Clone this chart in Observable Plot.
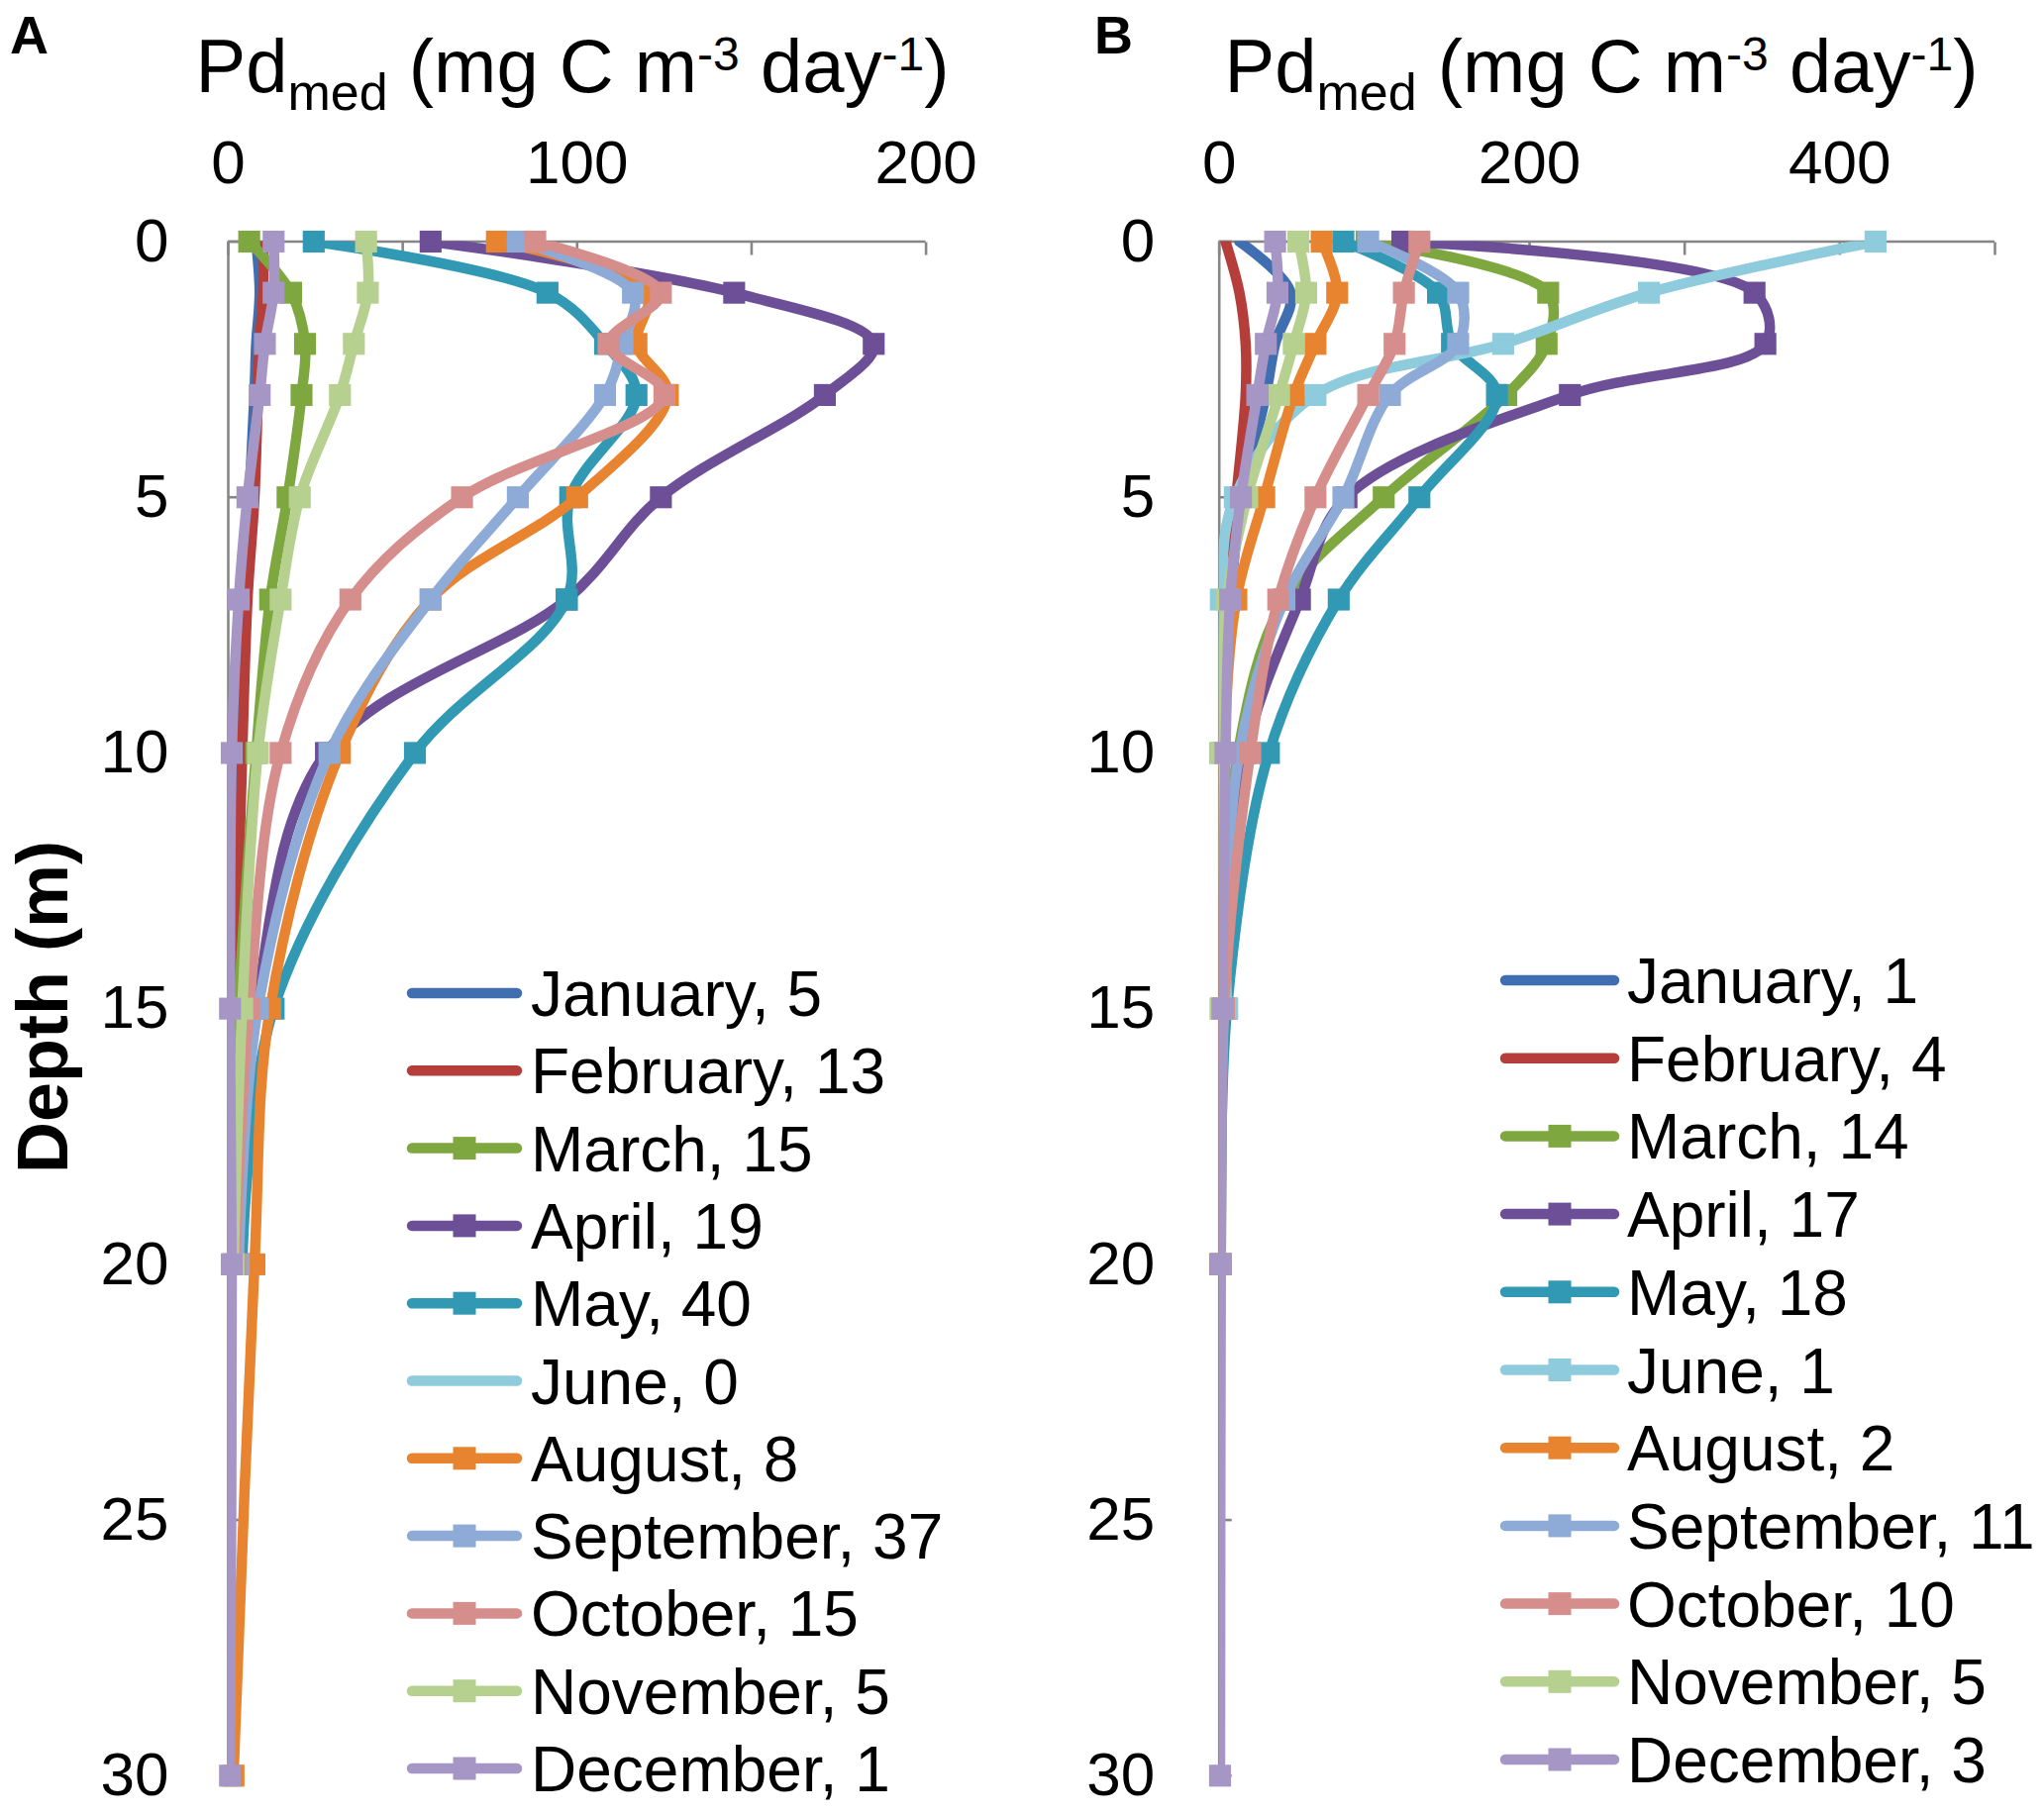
<!DOCTYPE html>
<html>
<head>
<meta charset="utf-8">
<script src="https://cdn.jsdelivr.net/npm/d3@7"></script>
<script src="https://cdn.jsdelivr.net/npm/@observablehq/plot@0.6"></script>
<style>
  html, body { margin: 0; padding: 0; background: #fff; }
  #root { position: relative; width: 2064px; height: 1832px; overflow: hidden; font-family: "Liberation Sans", Arial, sans-serif; }
  .panel { position: absolute; top: 0; width: 1032px; height: 1832px; }
</style>
</head>
<body>
<div id="root"></div>
<script>
// ---------- data ----------
const depths = [0, 1, 2, 3, 5, 7, 10, 15, 20, 30];
const depthTicks = [0, 5, 10, 15, 20, 25, 30];
const months = ["January", "February", "March", "April", "May", "June", "August", "September", "October", "November", "December"];
const colors = ["#3f6fb0", "#b53d3a", "#7ea83f", "#6c4f97", "#3199b3", "#8ecbdc", "#e8842f", "#8eaad6", "#d68e8c", "#b6d18f", "#a696c5"];
const countsA = [5, 13, 15, 19, 40, 0, 8, 37, 15, 5, 1];
const countsB = [1, 4, 14, 17, 18, 1, 2, 11, 10, 5, 3];
const markersA = [false, false, true, true, true, false, true, true, true, true, true];
const markersB = [false, false, true, true, true, true, true, true, true, true, true];

const xTicksA = [0, 50, 100, 150, 200];
const xLabelsA = [0, 100, 200];
const xTicksB = [0, 100, 200, 300, 400, 500];
const xLabelsB = [0, 200, 400];

// Panel A values at depths 0,1,2,3,5,7,10,15,20,30
const aJan = [8, 9, 8, 7.5, 6, 4, 2.5, 1.5, 1, null];
const aFeb = [10, 10, 9, 8.5, 7.5, 5.5, 4, 2, 1, null];
const aMar = [6, 18, 22, 21, 17, 12, 8, 3, 1.5, null];
const aApr = [58, 145, 185, 171, 124, 97, 28, 8, 3, null];
const aMay = [24.5, 91.5, 108, 117, 98, 97, 53.5, 13, 4, null];
const aJun = [null, null, null, null, null, null, null, null, null, null];
const aAug = [77, 120, 117, 126, 100, 58, 32, 12, 7.5, 1.5];
const aSep = [83, 116, 113, 108, 83, 58, 29, 8.5, 3, null];
const aOct = [88, 124, 109, 125, 67, 35, 15, 6, 2, null];
const aNov = [39.5, 40, 36, 32, 20.5, 15, 8.5, 4, 1.5, null];
const aDec = [13, 13, 10.5, 9, 5.5, 3, 1, 0.5, 1, 0.5];

// Panel B values
const bJan = [13, 46, 36, 30, 15, 7, 3, 1, 0.5, null];
const bFeb = [4, 13, 17, 17, 11, 5.5, 2, 1, 0.5, null];
const bMar = [95, 212, 211, 185, 106, 42, 12, 3, 1, null];
const bApr = [118, 345, 352, 226, 82, 52, 17, 3, 1, null];
const bMay = [80, 141, 150, 179, 129, 77, 32, 5, 1, null];
const bJun = [423, 277, 183, 62, 10, 1, 1, 5, null, null];
const bAug = [66, 76, 62, 48, 29, 11, 3, 1, 0.5, null];
const bSep = [96, 154, 154, 110, 80, 42, 13, 3, 1, null];
const bOct = [129, 119, 113, 96, 62, 38, 20, 3, 1, null];
const bNov = [51, 56, 48, 38.5, 18, 5, 0.5, 1, null, null];
const bDec = [36, 37.5, 30, 24.5, 14, 7, 4, 2, 1, 0.5];

const valsA = [aJan, aFeb, aMar, aApr, aMay, aJun, aAug, aSep, aOct, aNov, aDec];
const valsB = [bJan, bFeb, bMar, bApr, bMay, bJun, bAug, bSep, bOct, bNov, bDec];

// ---------- layout ----------
const W = 2064, H = 1832;
const yTop = 243.5, yBot = 1792.8;
const FONT = '"Liberation Sans", Arial, sans-serif';
const AXIS = "#868686";

function makePanel({vals, xmax, tickMarks, tickLabels, ml, mr, labelPad, markers}) {
  const seriesMarks = [];
  months.forEach((m, i) => {
    const data = depths.map((d, j) => ({depth: d, v: vals[i][j], month: m})).filter(d => d.v != null);
    if (!data.length) return;
    seriesMarks.push(Plot.line(data, {x: "v", y: "depth", stroke: "month", strokeWidth: 10.5, curve: "catmull-rom", clip: true}));
    if (markers[i]) seriesMarks.push(Plot.dot(data, {x: "v", y: "depth", fill: "month", symbol: "square", r: 12.5}));
  });
  return Plot.plot({
    width: 1032, height: H,
    marginTop: yTop, marginBottom: H - yBot, marginLeft: ml, marginRight: mr,
    x: {domain: [0, xmax]},
    y: {domain: [0, 30], reverse: true},
    color: {domain: months, range: colors},
    style: {fontFamily: FONT, color: "#000", background: "transparent", overflow: "visible"},
    marks: [
      Plot.axisX({anchor: "top", ticks: tickMarks, tickSize: -13, tickFormat: () => "", stroke: AXIS, strokeWidth: 2.6, label: null}),
      Plot.axisX({anchor: "top", ticks: tickLabels, tickSize: 0, tickPadding: 59, fontSize: 62, label: null}),
      Plot.axisY({anchor: "left", ticks: depthTicks, tickSize: -13, tickFormat: () => "", stroke: AXIS, strokeWidth: 2.6, label: null}),
      Plot.axisY({anchor: "left", ticks: depthTicks, tickSize: 0, tickPadding: labelPad, fontSize: 62, label: null}),
      Plot.ruleY([0], {stroke: AXIS, strokeWidth: 2.6}),
      Plot.ruleX([0], {stroke: AXIS, strokeWidth: 2.6}),
      ...seriesMarks
    ]
  });
}

const root = d3.select("#root");

const pA = makePanel({vals: valsA, xmax: 200, tickMarks: xTicksA, tickLabels: xLabelsA, ml: 230, mr: 1032 - 934.6, labelPad: 60, markers: markersA});
const pB = makePanel({vals: valsB, xmax: 500, tickMarks: xTicksB, tickLabels: xLabelsB, ml: 1230.7 - 1032, mr: 50, labelPad: 65, markers: markersB});

root.append("div").attr("class", "panel").style("left", "0px").node().appendChild(pA);
root.append("div").attr("class", "panel").style("left", "1032px").node().appendChild(pB);

// ---------- annotations ----------
const ov = root.append("svg")
  .attr("width", W).attr("height", H)
  .style("position", "absolute").style("left", "0px").style("top", "0px")
  .style("pointer-events", "none")
  .style("font-family", FONT);

ov.append("text").attr("x", 10).attr("y", 54).attr("font-size", 54).attr("font-weight", "bold").text("A");
ov.append("text").attr("x", 1105).attr("y", 54).attr("font-size", 54).attr("font-weight", "bold").text("B");

function title(cx) {
  const t = ov.append("text").attr("x", cx).attr("y", 93).attr("text-anchor", "middle").attr("font-size", 76);
  t.append("tspan").text("Pd");
  t.append("tspan").attr("font-size", 52).attr("dy", 18).text("med");
  t.append("tspan").attr("dy", -18).text(" (mg C m");
  t.append("tspan").attr("font-size", 48).attr("dy", -22).text("-3");
  t.append("tspan").attr("dy", 22).text(" day");
  t.append("tspan").attr("font-size", 48).attr("dy", -22).text("-1");
  t.append("tspan").attr("dy", 22).text(")");
}
title(578);
title(1617);

ov.append("text")
  .attr("transform", "translate(68,1017) rotate(-90)")
  .attr("text-anchor", "middle").attr("font-size", 72).attr("font-weight", "bold")
  .text("Depth (m)");

function legend(x1, x2, tx, y0, dy, counts, markers) {
  months.forEach((m, i) => {
    const cy = y0 + i * dy;
    ov.append("line").attr("x1", x1).attr("x2", x2).attr("y1", cy).attr("y2", cy)
      .attr("stroke", colors[i]).attr("stroke-width", 10.5).attr("stroke-linecap", "round");
    if (markers[i]) {
      ov.append("rect").attr("x", (x1 + x2) / 2 - 11.5).attr("y", cy - 11.5).attr("width", 23).attr("height", 23).attr("fill", colors[i]);
    }
    ov.append("text").attr("x", tx).attr("y", cy + 23).attr("font-size", 64).attr("fill", "#000").text(`${m}, ${counts[i]}`);
  });
}
legend(416, 522, 536, 1003, 78.3, countsA, markersA);
legend(1520, 1630, 1643, 990, 78.7, countsB, markersB);
</script>
</body>
</html>
